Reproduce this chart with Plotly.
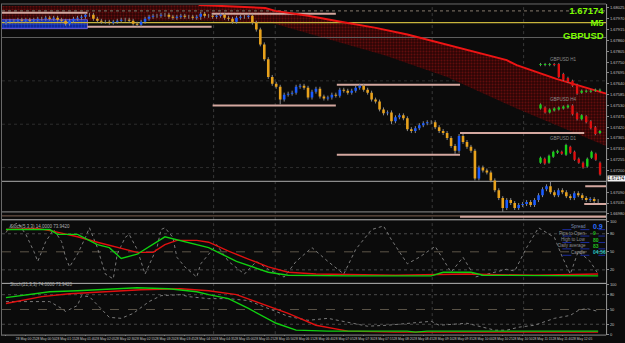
import plotly.graph_objects as go

# ---------------- data ----------------
close_main = [
    1.67955, 1.67960, 1.67960, 1.67965, 1.67960, 1.67965, 1.67960, 1.67965, 1.67970, 1.67970,
    1.67975, 1.67970, 1.67975, 1.67965, 1.67960, 1.67945, 1.67960, 1.67970, 1.67975, 1.67980,
    1.67990, 1.67990,
    1.67970, 1.67960, 1.67955, 1.67955, 1.67950, 1.67955, 1.67960, 1.67965, 1.67965, 1.67960,
    1.67945, 1.67940, 1.67955, 1.67970, 1.67980, 1.67985, 1.67985, 1.67990, 1.67990, 1.67980,
    1.67975, 1.67980, 1.67985, 1.67980, 1.67980, 1.67975, 1.67980,
    1.67995, 1.67985, 1.67985, 1.67980, 1.67985, 1.67990, 1.67975, 1.67970, 1.67955, 1.67975,
    1.67980, 1.67980, 1.67985, 1.67950, 1.67915, 1.67840, 1.67765,
    1.67675, 1.67640, 1.67625, 1.67560, 1.67585, 1.67590, 1.67595, 1.67625, 1.67630, 1.67620,
    1.67570, 1.67600, 1.67615, 1.67575, 1.67565, 1.67570, 1.67585, 1.67580, 1.67610, 1.67605,
    1.67595, 1.67605, 1.67620, 1.67630, 1.67610, 1.67595, 1.67560, 1.67550, 1.67510, 1.67490,
    1.67495, 1.67450, 1.67470, 1.67480, 1.67465, 1.67410, 1.67400, 1.67415, 1.67430, 1.67440,
    1.67445, 1.67445, 1.67420, 1.67400, 1.67390, 1.67365, 1.67325, 1.67300, 1.67375, 1.67345,
    1.67320, 1.67300, 1.67160, 1.67215, 1.67200, 1.67190, 1.67150, 1.67100, 1.67060, 1.67010,
    1.67050, 1.67035, 1.67010, 1.67025, 1.67030, 1.67040, 1.67025, 1.67050, 1.67075, 1.67105,
    1.67120, 1.67090, 1.67075, 1.67100, 1.67090, 1.67070, 1.67060, 1.67085, 1.67075, 1.67060,
    1.67050, 1.67055, 1.67045, 1.67045,
]
first_open = 1.67950
long_wick_idx = [49, 69, 97, 113, 118, 125, 137]
long_wick_val = [1.67965, 1.67535, 1.67435, 1.67285, 1.67150, 1.66990, 1.67145]

# envelope band (candle index, price)
band_up_x = [-1.5, 48.5, 65.25, 67.75, 76, 84.25, 92.75, 101, 126, 128.5, 138.5, 151]
band_up_y = [1.68035, 1.68040, 1.68025, 1.68010, 1.67985, 1.67955, 1.67925, 1.67890,
             1.67760, 1.67735, 1.67665, 1.67590]
band_lo_x = [-1.5, 48.5, 66.75, 81.75, 95.25, 111, 128.5, 151]
band_lo_y = [1.67960, 1.67960, 1.67950, 1.67865, 1.67785, 1.67675, 1.67515, 1.67325]

# blue zone
zone_x = [-1.5, 20.5]
zone_y = [1.67965, 1.67920]

# horizontal levels
full_levels = [1.68010, 1.67950, 1.67875, 1.67145, 1.66990, 1.66970]
seg_start = [-1.5, 20.5, 51.75, 52.0, 83.25, 83.25, 114.25, 145.75, 145.5, 114.25]
seg_end = [20.5, 51.75, 83.0, 83.0, 114.25, 114.25, 145.5, 151, 151, 151]
seg_price = [1.68000, 1.67930, 1.67995, 1.67530, 1.67635, 1.67280, 1.67390, 1.67120, 1.67030, 1.66965]

# insets (open, close)
h1_open = [1.67735, 1.67735, 1.67735, 1.67740, 1.67740, 1.67690, 1.67670, 1.67655, 1.67635, 1.67595, 1.67600, 1.67600, 1.67605, 1.67605]
h1_close = [1.67740, 1.67740, 1.67740, 1.67735, 1.67675, 1.67660, 1.67650, 1.67630, 1.67590, 1.67605, 1.67605, 1.67605, 1.67610, 1.67610]
h4_open = [1.67515, 1.67520, 1.67495, 1.67505, 1.67510, 1.67515, 1.67520, 1.67530, 1.67490, 1.67460, 1.67475, 1.67450, 1.67420, 1.67390]
h4_close = [1.67535, 1.67495, 1.67510, 1.67515, 1.67520, 1.67525, 1.67530, 1.67485, 1.67460, 1.67480, 1.67445, 1.67415, 1.67385, 1.67400]
d1_open = [1.67240, 1.67260, 1.67240, 1.67270, 1.67290, 1.67295, 1.67280, 1.67320, 1.67295, 1.67260, 1.67240, 1.67220, 1.67265, 1.67285, 1.67240]
d1_close = [1.67265, 1.67235, 1.67275, 1.67295, 1.67300, 1.67285, 1.67330, 1.67290, 1.67255, 1.67240, 1.67215, 1.67260, 1.67295, 1.67255, 1.67180]
inset_labels = ["GBPUSD H1", "GBPUSD H4", "GBPUSD D1"]
inset_label_price = [1.67765, 1.67560, 1.67360]

# oscillator panel 1
p1_dot_x = [0, 1, 3, 5, 7, 8, 10, 12, 14, 15, 16, 18, 20, 21, 23, 25, 27, 28, 30, 31, 33, 35, 38, 39, 40,
            42, 43, 45, 48, 49, 51, 53, 56, 60, 63, 66, 70, 73, 77, 81, 85, 88, 92, 95, 97, 101, 104, 108,
            112, 115, 118, 123, 126, 128, 131, 134, 138, 140, 142, 144, 147, 149]
p1_dot_y = [82, 92, 98, 79, 51, 34, 67, 87, 67, 41, 25, 46, 74, 90, 57, 13, 5, 46, 74, 79, 54, 13, 57, 87, 90,
            74, 41, 25, 8, 30, 46, 62, 34, 13, 34, 21, 8, 34, 57, 34, 13, 54, 87, 93, 70, 30, 41, 59,
            16, 41, 8, 16, 21, 18, 57, 90, 74, 41, 13, 51, 34, 13]
p1_red_x = [0, 8, 12, 18, 23, 28, 33, 37, 40, 43, 48, 51, 56, 61, 66, 71, 78, 98, 116, 133, 149]
p1_red_y = [87, 89, 84, 75, 66, 57, 49, 49, 62, 69, 69, 66, 51, 38, 25, 16, 13, 11, 13, 11, 13]
p1_grn_x = [0, 11, 13, 18, 23, 26, 29, 33, 40, 43, 48, 51, 58, 66, 71, 86, 107, 110, 117, 120, 149]
p1_grn_y = [87, 87, 79, 79, 62, 57, 39, 46, 75, 70, 62, 57, 34, 16, 11, 10, 10, 16, 16, 11, 10]

# oscillator panel 2
p2_dot_x = [0, 4, 11, 14, 15, 18, 19, 21, 24, 26, 29, 32, 36, 39, 44, 46, 51, 56, 61, 66, 71, 76, 81, 86,
            91, 96, 101, 107, 109, 116, 118, 123, 126, 129, 133, 136, 138, 142, 144, 146, 149]
p2_dot_y = [66, 66, 66, 52, 46, 58, 78, 76, 52, 34, 32, 42, 66, 78, 80, 76, 72, 72, 68, 52, 36, 28, 32, 24,
            16, 18, 22, 26, 18, 22, 18, 8, 8, 14, 18, 26, 32, 38, 48, 52, 46]
p2_red_x = [0, 4, 9, 16, 24, 34, 44, 51, 58, 63, 71, 78, 86, 98, 149]
p2_red_y = [62, 68, 76, 82, 86, 90, 92, 88, 80, 66, 42, 18, 6, 4, 4]
p2_grn_x = [0, 4, 11, 18, 26, 33, 41, 48, 51, 56, 61, 68, 73, 81, 101, 103, 106, 149]
p2_grn_y = [74, 78, 86, 88, 92, 94, 92, 86, 80, 72, 52, 22, 8, 6, 6, 4, 6, 6]
osc_levels = [80, 50, 20]

# axis labels
main_ticks = [1.68025, 1.67970, 1.67915, 1.67860, 1.67805, 1.67750, 1.67695, 1.67640, 1.67585,
              1.67530, 1.67475, 1.67420, 1.67365, 1.67310, 1.67255, 1.67200, 1.67090, 1.67035, 1.66980]
time_tick_idx = list(range(0, 150, 5))
time_labels = ["28 May 2014", "28 May 00:25", "28 May 00:50", "28 May 01:15", "28 May 01:40",
               "28 May 02:05", "28 May 02:30", "28 May 02:55", "28 May 03:20", "28 May 03:45",
               "28 May 04:10", "28 May 04:35", "28 May 05:00", "28 May 05:25", "28 May 05:50",
               "28 May 06:15", "28 May 06:40", "28 May 07:05", "28 May 07:30", "28 May 07:55",
               "28 May 08:20", "28 May 08:45", "28 May 09:10", "28 May 09:35", "28 May 10:00",
               "28 May 10:25", "28 May 10:50", "28 May 11:15", "28 May 11:40", "28 May 12:05"]
last_price = "1.67174"
symbol_lines = [last_price, "M5", "GBPUSD"]
info_labels = ["Spread", "Pips to Open", "High to Low", "Daily average", "Candle"]
info_values = ["0.9", "9", "80", "83", "04:56"]

# ---------------- styles / layout helpers ----------------
W, H = 625, 343
BG = "#0b0b0b"
FONT = "Liberation Sans, Arial, sans-serif"


def px_x(p):
    return p / W


def px_y(p):
    return 1 - p / H


def segs(xs, a, b):
    X, Y = [], []
    for x, y0, y1 in zip(xs, a, b):
        X += [x, x, None]
        Y += [y0, y1, None]
    return X, Y


def hsegs(x0s, x1s, ys):
    X, Y = [], []
    for x0, x1, y in zip(x0s, x1s, ys):
        X += [x0, x1, None]
        Y += [y, y, None]
    return X, Y


fig = go.Figure()

# band
fig.add_trace(go.Scatter(
    x=band_up_x + band_lo_x[::-1], y=band_up_y + band_lo_y[::-1], fill="toself",
    mode="lines", line=dict(width=0, color="#4a0808"), fillcolor="#3a0606",
    fillpattern=dict(shape=".", fgcolor="#9a1414", bgcolor="#2c0505", size=3, solidity=0.35),
    hoverinfo="skip", showlegend=False, xaxis="x", yaxis="y"))

# blue zone
fig.add_trace(go.Scatter(
    x=[zone_x[0], zone_x[1], zone_x[1], zone_x[0], zone_x[0]],
    y=[zone_y[0], zone_y[0], zone_y[1], zone_y[1], zone_y[0]],
    fill="toself", mode="lines", line=dict(width=1, color="#6a5ad8"),
    fillpattern=dict(shape=".", fgcolor="#2a5cff", bgcolor="#0c1e8a", size=3, solidity=0.5),
    hoverinfo="skip", showlegend=False, xaxis="x", yaxis="y"))

# horizontal levels full width
lvl_colors = ["#6e645a", "#c8b43c", "#5e5e5e", "#8c8c8c", "#767676", "#6a5244"]
lvl_dash = ["dot", "solid", "solid", "solid", "solid", "solid"]
for p, c, d in zip(full_levels, lvl_colors, lvl_dash):
    fig.add_trace(go.Scatter(x=[-1, 151], y=[p, p], mode="lines",
                             line=dict(color=c, width=1.2, dash=d),
                             hoverinfo="skip", showlegend=False, xaxis="x", yaxis="y"))
sx, sy = hsegs(seg_start, seg_end, seg_price)
fig.add_trace(go.Scatter(x=sx, y=sy, mode="lines", line=dict(color="#d4a8a0", width=2),
                         hoverinfo="skip", showlegend=False, xaxis="x", yaxis="y"))

# red band upper line
fig.add_trace(go.Scatter(x=band_up_x[1:], y=band_up_y[1:], mode="lines",
                         line=dict(color="#ee1414", width=2),
                         hoverinfo="skip", showlegend=False, xaxis="x", yaxis="y"))

# main candles
n = len(close_main)
opens = [first_open] + close_main[:-1]
idx = list(range(n))
wick = 0.0001
highs = [max(o, c) + wick for o, c in zip(opens, close_main)]
lows = [min(o, c) - wick for o, c in zip(opens, close_main)]
for i, v in zip(long_wick_idx, long_wick_val):
    if v > max(opens[i], close_main[i]):
        highs[i] = v
    else:
        lows[i] = v
wx, wy = segs(idx, lows, highs)
fig.add_trace(go.Scatter(x=wx, y=wy, mode="lines", line=dict(color="#8a8a8a", width=1),
                         hoverinfo="skip", showlegend=False, xaxis="x", yaxis="y"))
up = [i for i in idx if close_main[i] >= opens[i]]
dn = [i for i in idx if close_main[i] < opens[i]]
ux, uy = segs(up, [opens[i] for i in up], [close_main[i] for i in up])
dx, dy = segs(dn, [opens[i] for i in dn], [close_main[i] for i in dn])
fig.add_trace(go.Scatter(x=ux, y=uy, mode="lines", line=dict(color="#1a5cff", width=2.6),
                         hoverinfo="skip", showlegend=False, xaxis="x", yaxis="y"))
fig.add_trace(go.Scatter(x=dx, y=dy, mode="lines", line=dict(color="#e8a21c", width=2.6),
                         hoverinfo="skip", showlegend=False, xaxis="x", yaxis="y"))

# insets
inset_w = 0.00006
for op, cl, step in [(h1_open, h1_close, 1.15), (h4_open, h4_close, 1.15), (d1_open, d1_close, 1.07)]:
    xs = [134.5 + k * step for k in range(len(op))]
    hi = [max(o, c) + inset_w for o, c in zip(op, cl)]
    lo = [min(o, c) - inset_w for o, c in zip(op, cl)]
    a, b = segs(xs, lo, hi)
    fig.add_trace(go.Scatter(x=a, y=b, mode="lines", line=dict(color="#7a7a7a", width=1),
                             hoverinfo="skip", showlegend=False, xaxis="x", yaxis="y"))
    g = [k for k in range(len(op)) if cl[k] >= op[k]]
    r = [k for k in range(len(op)) if cl[k] < op[k]]
    a, b = segs([xs[k] for k in g], [op[k] for k in g], [cl[k] for k in g])
    fig.add_trace(go.Scatter(x=a, y=b, mode="lines", line=dict(color="#18d018", width=2.4),
                             hoverinfo="skip", showlegend=False, xaxis="x", yaxis="y"))
    a, b = segs([xs[k] for k in r], [op[k] for k in r], [cl[k] for k in r])
    fig.add_trace(go.Scatter(x=a, y=b, mode="lines", line=dict(color="#e01010", width=2.4),
                             hoverinfo="skip", showlegend=False, xaxis="x", yaxis="y"))

annotations = []
for t, p in zip(inset_labels, inset_label_price):
    annotations.append(dict(x=136.5, y=p, xref="x", yref="y", text=t, showarrow=False,
                            xanchor="left", yanchor="middle",
                            font=dict(size=4.5, color="#8a8a8a", family=FONT)))

# oscillator panels
for ax, (dxs, dys, rxs, rys, gxs, gys) in [
        ("2", (p1_dot_x, p1_dot_y, p1_red_x, p1_red_y, p1_grn_x, p1_grn_y)),
        ("3", (p2_dot_x, p2_dot_y, p2_red_x, p2_red_y, p2_grn_x, p2_grn_y))]:
    for lv, dash in zip(osc_levels, ["dot", "dash", "dot"]):
        fig.add_trace(go.Scatter(x=[-1, 151], y=[lv, lv], mode="lines",
                                 line=dict(color="#5c5548" if lv == 50 else "#4a4a4a", width=1, dash=dash),
                                 hoverinfo="skip", showlegend=False, xaxis="x" + ax, yaxis="y" + ax))
    fig.add_trace(go.Scatter(x=dxs, y=dys, mode="lines", line=dict(color="#7a7a7a", width=1, dash="dot"),
                             hoverinfo="skip", showlegend=False, xaxis="x" + ax, yaxis="y" + ax))
    fig.add_trace(go.Scatter(x=rxs, y=rys, mode="lines", line=dict(color="#e01010", width=1.4),
                             hoverinfo="skip", showlegend=False, xaxis="x" + ax, yaxis="y" + ax))
    fig.add_trace(go.Scatter(x=gxs, y=gys, mode="lines", line=dict(color="#10d010", width=1.4),
                             hoverinfo="skip", showlegend=False, xaxis="x" + ax, yaxis="y" + ax))

# texts
annotations.append(dict(x=px_x(609), y=px_y(1.5), xref="paper", yref="paper",
                        text="<br>".join("<b>%s</b>" % t for t in symbol_lines),
                        showarrow=False, xanchor="right", yanchor="top", align="right", borderpad=0,
                        font=dict(size=9.5, color="#7CFC00", family="Liberation Sans, Arial, sans-serif")))
annotations.append(dict(x=px_x(611), y=1.67160, xref="paper", yref="y", text=last_price,
                        showarrow=False, xanchor="left", yanchor="middle", bgcolor="#f0f0f0",
                        borderpad=0, font=dict(size=4.5, color="#000000", family=FONT)))
annotations.append(dict(x=px_x(8), y=px_y(227), xref="paper", yref="paper",
                        text="Stoch(5,3,3) 14.0000 73.9420", showarrow=False, xanchor="left",
                        font=dict(size=4.5, color="#b0b0b0", family=FONT)))
annotations.append(dict(x=px_x(8), y=px_y(290), xref="paper", yref="paper",
                        text="Stoch(21,3,3) 74.0000 73.9420", showarrow=False, xanchor="left",
                        font=dict(size=4.5, color="#b0b0b0", family=FONT)))
row_y = [227, 233.5, 240, 246.5, 253]
val_col = ["#2a6cff", "#22c022", "#22c022", "#22c022", "#20c0c0"]
for lab, val, yy, cc in zip(info_labels, info_values, row_y, val_col):
    annotations.append(dict(x=px_x(592), y=px_y(yy), xref="paper", yref="paper", text=lab,
                            showarrow=False, xanchor="right", yanchor="middle",
                            font=dict(size=4.5, color="#7a8ab0" if lab == "Spread" else "#909090", family=FONT)))
    annotations.append(dict(x=px_x(595), y=px_y(yy), xref="paper", yref="paper", text="<b>%s</b>" % val,
                            showarrow=False, xanchor="left", yanchor="middle",
                            font=dict(size=7 if lab == "Spread" else 5, color=cc, family=FONT)))

shapes = []
for yy in [230, 236.5, 243, 249.5, 256]:
    shapes.append(dict(type="line", xref="paper", yref="paper", x0=px_x(566), x1=px_x(609),
                       y0=px_y(yy), y1=px_y(yy), line=dict(color="#1c2c9c", width=1, dash="dash")))
for vx in [52.25, 67.75, 107.25, 130.25]:
    shapes.append(dict(type="line", xref="x", yref="paper", x0=vx, x1=vx, y0=px_y(336), y1=px_y(2),
                       line=dict(color="#3a3a3a", width=1, dash="dot"), layer="below"))
for hy in [1.67655, 1.67435, 1.67215]:
    shapes.append(dict(type="line", xref="paper", yref="y", x0=px_x(2), x1=px_x(610), y0=hy, y1=hy,
                       line=dict(color="#2e2e2e", width=1, dash="dot"), layer="below"))
# frame and separators
for yy, c in [(1, "#6a6a6a"), (220, "#b8b8b8"), (284.5, "#b8b8b8"), (337, "#8a8a8a")]:
    shapes.append(dict(type="line", xref="paper", yref="paper", x0=px_x(1), x1=px_x(610),
                       y0=px_y(yy), y1=px_y(yy), line=dict(color=c, width=1)))
shapes.append(dict(type="line", xref="paper", yref="paper", x0=px_x(1.5), x1=px_x(1.5),
                   y0=px_y(337), y1=px_y(1), line=dict(color="#6a6a6a", width=1)))
shapes.append(dict(type="line", xref="paper", yref="paper", x0=px_x(610.5), x1=px_x(610.5),
                   y0=px_y(337), y1=px_y(1), line=dict(color="#9a9a9a", width=1)))

tickf = dict(size=4, color="#c0c0c0", family=FONT)
xdom = [px_x(2), px_x(610)]
common_x = dict(domain=xdom, range=[-1, 151], showgrid=False, zeroline=False, showline=False)
fig.update_layout(
    width=W, height=H, margin=dict(l=0, r=0, t=0, b=0),
    paper_bgcolor=BG, plot_bgcolor=BG, showlegend=False,
    xaxis=dict(**common_x, anchor="y", showticklabels=False),
    xaxis2=dict(**common_x, anchor="y2", matches="x", showticklabels=False),
    xaxis3=dict(**common_x, anchor="y3", matches="x", tickmode="array", tickvals=time_tick_idx,
                ticktext=time_labels, tickangle=0, tickfont=dict(size=3.3, color="#c0c0c0", family=FONT),
                ticks="outside", ticklen=1, tickcolor="#777777"),
    yaxis=dict(domain=[px_y(219), px_y(2)], range=[1.66955, 1.68040], side="right", anchor="x",
               tickmode="array", tickvals=main_ticks, ticktext=["%.5f" % v for v in main_ticks],
               tickfont=tickf, showgrid=False, zeroline=False, ticks="outside", ticklen=2,
               tickcolor="#888888"),
    yaxis2=dict(domain=[px_y(283), px_y(222)], range=[0, 100], side="right", anchor="x2",
                tickmode="array", tickvals=[100] + osc_levels, tickfont=tickf, showgrid=False,
                zeroline=False, ticks="outside", ticklen=2, tickcolor="#888888"),
    yaxis3=dict(domain=[px_y(336), px_y(286)], range=[0, 100], side="right", anchor="x3",
                tickmode="array", tickvals=[100] + osc_levels + [0], tickfont=tickf, showgrid=False,
                zeroline=False, ticks="outside", ticklen=2, tickcolor="#888888"),
    annotations=annotations, shapes=shapes,
)

fig.write_html("out.html")
